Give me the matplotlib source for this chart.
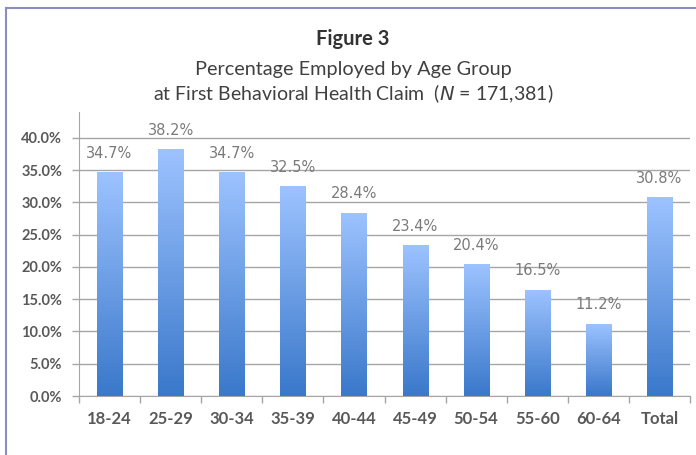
import numpy as np
import matplotlib
matplotlib.use("Agg")
import matplotlib.pyplot as plt
from matplotlib.lines import Line2D
from matplotlib.colors import LinearSegmentedColormap

# data
groups = ["18-24", "25-29", "30-34", "35-39", "40-44", "45-49", "50-54", "55-60", "60-64", "Total"]
employed = [34.7, 38.2, 34.7, 32.5, 28.4, 23.4, 20.4, 16.5, 11.2, 30.8]
yticks = [0, 5, 10, 15, 20, 25, 30, 35, 40]

W, H = 696, 455
fig = plt.figure(figsize=(W / 100, H / 100), dpi=100)
ax = fig.add_axes([79 / W, 1 - 396 / H, (690 - 79) / W, (396 - 112) / H])

grad = LinearSegmentedColormap.from_list("g", ["#3A78CA", "#9DC3FF"])
x = np.arange(len(groups))
bars = ax.bar(x, employed, width=0.41, color="none", edgecolor="none", zorder=3)
for b, v in zip(bars, employed):
    x0 = b.get_x()
    img = ax.imshow(np.linspace(0, 1, 256).reshape(-1, 1), cmap=grad, origin="lower",
                    extent=(x0, x0 + b.get_width(), 0, v), aspect="auto", zorder=3)
    img.set_clip_path(b)
    ax.annotate(f"{v:.1f}%", (b.get_x() + b.get_width() / 2, v), xytext=(0, 13.5),
                textcoords="offset points", ha="center", va="center",
                fontsize=10.5, color="#7A7A7A", family="DejaVu Sans")

ax.set_xlim(-0.5, len(groups) - 0.5)
ax.set_ylim(0, 44)
ax.set_yticks(yticks)
ax.set_yticklabels([f"{t:.1f}%" for t in yticks])
ax.set_xticks(x)
ax.set_xticklabels(groups)
ax.set_xticks(np.arange(len(groups) + 1) - 0.5, minor=True)
ax.tick_params(axis="x", which="major", length=0, pad=11)
ax.tick_params(axis="x", which="minor", length=5, color="#A6A6A6", width=1)
ax.tick_params(axis="y", length=5, color="#A6A6A6", width=1, pad=7)
for lab in ax.get_xticklabels() + ax.get_yticklabels():
    lab.set_family("Lato")
    lab.set_fontweight("bold")
    lab.set_fontsize(10.5)
    lab.set_color("#595959")
for lab in ax.get_xticklabels():
    lab.set_fontsize(12)

ax.grid(axis="y", color="#A6A6A6", linewidth=1, zorder=0)
ax.set_axisbelow(True)
for s in ["top", "right"]:
    ax.spines[s].set_visible(False)
ax.spines["left"].set_color("#A6A6A6")
ax.spines["bottom"].set_color("#A6A6A6")

fig.text(353 / W, 1 - 45 / H, "Figure 3", ha="center", va="baseline",
         fontsize=14.5, fontweight="bold", color="#333333", family="Lato")
fig.text(353 / W, 1 - 75 / H, "Percentage Employed by Age Group", ha="center", va="baseline",
         fontsize=14.3, color="#404040", family="Lato")
fig.text(353 / W, 1 - 100.5 / H, "at First Behavioral Health Claim  ($\\mathit{N}$ = 171,381)",
         ha="center", va="baseline", fontsize=14, color="#404040", family="Lato")

# frame around the figure
fig.add_artist(Line2D([6 / W, 6 / W], [0, 1 - 8 / H], color="#8C8CC0", lw=1.5))
fig.add_artist(Line2D([6 / W, 1], [1 - 8 / H, 1 - 8 / H], color="#8C8CC0", lw=1.5))

fig.savefig("out.png", dpi=100)
